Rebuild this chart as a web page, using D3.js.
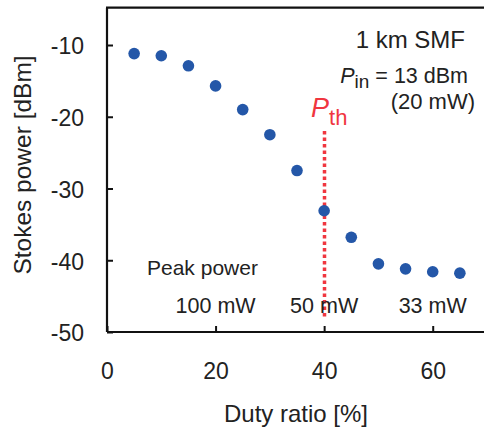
<!DOCTYPE html>
<html><head><meta charset="utf-8">
<script src="https://cdn.jsdelivr.net/npm/d3@7"></script>
<style>body{margin:0;background:#fff}svg{display:block}text{font-family:"Liberation Sans",Arial,sans-serif}</style>
</head><body>
<script>
const duty = [5,10,15,20,25,30,35,40,45,50,55,60,65];
const stokes = [-11.2,-11.5,-12.9,-15.7,-19.0,-22.5,-27.5,-33.1,-36.8,-40.5,-41.2,-41.6,-41.8];
const xTicks = [0,20,40,60];
const yTicks = [-10,-20,-30,-40,-50];
const peakLabels = ["100 mW","50 mW","33 mW"];
const peakAt = [20,40,60];
const pth = 40;

const W=484,H=432;
const svg=d3.select("body").append("svg").attr("width",W).attr("height",H);
const x=d3.scaleLinear().domain([0,70]).range([107,487]);
const y=d3.scaleLinear().domain([-50,-4.8]).range([332,7.7]);

// axes
const xa=svg.append("g").attr("transform",`translate(0,${y(-50)})`)
  .call(d3.axisBottom(x).tickValues(xTicks).tickFormat(d=>String(d)).tickSize(-6).tickPadding(31).tickSizeOuter(0));
const ya=svg.append("g").attr("transform",`translate(${x(0)},0)`)
  .call(d3.axisLeft(y).tickValues(yTicks).tickFormat(d=>String(d)).tickSize(-6).tickPadding(23).tickSizeOuter(0));
[xa,ya].forEach(g=>{
  g.select(".domain").attr("stroke","#111").attr("stroke-width",2.2);
  g.selectAll(".tick line").attr("stroke","#111").attr("stroke-width",2);
  g.selectAll(".tick text").attr("font-size",23).attr("fill","#222");
});
xa.select(".domain").attr("d",`M${x(0)},0H${W}`);
ya.select(".domain").attr("d",`M0,${y(-50)}V${y(-4.8)}`);
xa.selectAll(".tick text").attr("dy","0.71em");
ya.selectAll(".tick text").attr("dy","0.38em");
// top border
svg.append("line").attr("x1",x(0)-1).attr("x2",W).attr("y1",y(-4.8)).attr("y2",y(-4.8))
  .attr("stroke","#111").attr("stroke-width",2.2);

// Pth dotted line
svg.append("line").attr("x1",Math.round(x(pth))+0.5).attr("x2",Math.round(x(pth))+0.5).attr("y1",131).attr("y2",319)
  .attr("stroke","#f0363f").attr("stroke-width",3.5).attr("stroke-dasharray","3.5,3");

// points
svg.append("g").selectAll("circle").data(duty).join("circle")
  .attr("cx",d=>x(d)).attr("cy",(d,i)=>y(stokes[i])).attr("r",5.8).attr("fill","#2457a8");

// labels
svg.append("text").attr("x",296).attr("y",422).attr("text-anchor","middle").attr("font-size",24).attr("fill","#222").text("Duty ratio [%]");
svg.append("text").attr("transform","translate(31,165) rotate(-90)").attr("text-anchor","middle").attr("font-size",24.5).attr("fill","#222").text("Stokes power [dBm]");

svg.append("text").attr("x",465).attr("y",48).attr("text-anchor","end").attr("font-size",24).attr("fill","#222").text("1 km SMF");
const pin=svg.append("text").attr("x",468).attr("y",83).attr("text-anchor","end").attr("font-size",21.5).attr("fill","#222");
pin.append("tspan").attr("font-style","italic").text("P");
pin.append("tspan").attr("font-size",19).attr("dy",5).text("in");
pin.append("tspan").attr("dy",-5).text(" = 13 dBm");
svg.append("text").attr("x",475).attr("y",109).attr("text-anchor","end").attr("font-size",22).attr("fill","#222").text("(20 mW)");

const pt=svg.append("text").attr("x",311).attr("y",117).attr("font-size",27).attr("fill","#f0363f");
pt.append("tspan").attr("font-style","italic").text("P");
pt.append("tspan").attr("font-size",22).attr("dy",8).text("th");

svg.append("text").attr("x",147).attr("y",275).attr("font-size",21).attr("fill","#222").text("Peak power");
svg.append("g").selectAll("text").data(peakLabels).join("text")
  .attr("x",(d,i)=>x(peakAt[i])).attr("y",313).attr("text-anchor","middle").attr("font-size",21.5).attr("fill","#222").text(d=>d);
</script>
</body></html>
